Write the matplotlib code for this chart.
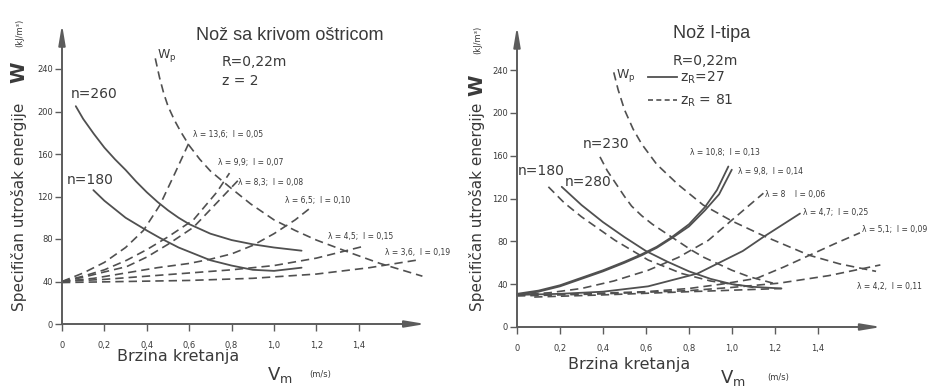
import matplotlib
matplotlib.use("Agg")
import matplotlib.pyplot as plt

plt.rcParams['font.family'] = ['DejaVu Sans']
plt.rcParams['mathtext.default'] = 'regular'

W_PX, H_PX = 939, 389
LINE = '#505050'
TEXT = '#3a3a3a'
AXIS = '#5c5c5c'
DASH = (0, (5, 3))

# ---------------- data: left panel (curved-edge knife) ----------------
x_ticks = [0, 0.2, 0.4, 0.6, 0.8, 1.0, 1.2, 1.4]
x_tick_labels = ['0', '0,2', '0,4', '0,6', '0,8', '1,0', '1,2', '1,4']
y_ticks = [0, 40, 80, 120, 160, 200, 240]
y_tick_labels = ['0', '40', '80', '120', '160', '200', '240']

L_n260_v = [0.065, 0.10, 0.15, 0.20, 0.25, 0.30, 0.35, 0.40, 0.45, 0.50, 0.55,
            0.60, 0.70, 0.80, 0.90, 1.00, 1.13]
L_n260_w = [205, 193, 179, 166, 155, 145, 134, 124, 115, 107, 100, 94, 85, 79, 75, 72, 69]
L_n180_v = [0.148, 0.20, 0.30, 0.40, 0.462, 0.55, 0.70, 0.80, 0.90, 1.00, 1.13]
L_n180_w = [126, 116, 100, 88, 81, 72, 60, 55, 51, 50, 53]
L_wp_v = [0.44, 0.46, 0.48, 0.50, 0.53, 0.56, 0.60, 0.65, 0.70, 0.79, 0.89, 1.00,
          1.10, 1.20, 1.36, 1.50, 1.60, 1.70]
L_wp_w = [250, 232, 217, 205, 192, 181, 168, 155, 144, 129, 113, 98, 88, 79, 67, 57, 51, 45]
L_l136_v = [0, 0.1, 0.2, 0.3, 0.384, 0.462, 0.533, 0.60]
L_l136_w = [40, 48, 58, 72, 88, 112, 142, 171]
L_l99_v = [0, 0.1, 0.2, 0.305, 0.4, 0.5, 0.62, 0.73, 0.79]
L_l99_w = [40, 45, 51, 60, 70, 82, 98, 124, 142]
L_l83_v = [0, 0.1, 0.2, 0.305, 0.4, 0.5, 0.62, 0.73, 0.83]
L_l83_w = [40, 44, 49, 54, 63, 75, 91, 114, 135]
L_l65_v = [0, 0.15, 0.3, 0.45, 0.6, 0.7, 0.8, 0.9, 1.0, 1.1, 1.17]
L_l65_w = [40, 43, 48, 53, 57, 61, 66, 74, 85, 98, 109]
L_l45_v = [0, 0.2, 0.4, 0.6, 0.8, 1.0, 1.2, 1.42]
L_l45_w = [40, 42, 45, 48, 51, 55, 62, 73]
L_l36_v = [0, 0.3, 0.6, 0.9, 1.2, 1.45, 1.67]
L_l36_w = [39, 40, 41, 43, 47, 53, 60]

L_labels = ['λ = 13,6;  l = 0,05', 'λ = 9,9;  l = 0,07', 'λ = 8,3;  l = 0,08',
            'λ = 6,5;  l = 0,10', 'λ = 4,5;  l = 0,15', 'λ = 3,6,  l = 0,19']

# ---------------- data: right panel (I-type knife) ----------------
R_wp_v = [0.45, 0.47, 0.50, 0.54, 0.58, 0.65, 0.75, 0.866, 1.00, 1.16, 1.36, 1.50, 1.67]
R_wp_w = [238, 222, 203, 185, 171, 152, 133, 114, 99, 84, 67, 59, 52]
R_n230_v = [0.386, 0.42, 0.46, 0.50, 0.533, 0.58, 0.63, 0.69, 0.75, 0.81, 0.87,
            0.93, 1.00, 1.08, 1.19]
R_n230_w = [159, 146, 134, 122, 113, 104, 96, 88, 80, 72, 65, 59.5, 53, 47, 41]
R_n180_v = [0.146, 0.22, 0.30, 0.456, 0.61, 0.766, 0.90, 1.00, 1.10]
R_n180_w = [131, 116, 103, 81, 62.6, 50, 43, 40, 37]
R_n280_v = [0.208, 0.30, 0.40, 0.50, 0.60, 0.70, 0.80, 0.90, 1.00, 1.10, 1.23]
R_n280_w = [131, 114, 98, 84, 71, 61, 52, 45, 40, 37.5, 36]
R_l108_v = [0, 0.1, 0.2, 0.3, 0.4, 0.5, 0.58, 0.65, 0.72, 0.8, 0.874, 0.93, 0.983]
R_l108_w = [31, 34, 39, 46, 53, 61, 68, 75, 84, 96, 112, 128, 150]
R_l98_v = [0, 0.1, 0.2, 0.3, 0.4, 0.5, 0.58, 0.65, 0.72, 0.8, 0.874, 0.94, 0.999]
R_l98_w = [30, 33, 38, 45, 52, 60, 67, 74, 83, 94, 109, 124, 147]
R_l8_v = [0, 0.15, 0.3, 0.45, 0.61, 0.75, 0.89, 1.0, 1.146]
R_l8_w = [30, 32, 36, 43, 53, 65, 81, 100, 125]
R_l47_v = [0, 0.2, 0.4, 0.61, 0.84, 0.93, 1.05, 1.145, 1.316]
R_l47_w = [30, 31, 33, 38, 50, 59, 71, 84, 106]
R_l51_v = [0, 0.3, 0.6, 0.8, 0.95, 1.115, 1.24, 1.36, 1.48, 1.595]
R_l51_w = [30, 31, 33, 36, 40, 45.5, 56, 67, 78, 88]
R_l42_v = [0, 0.4, 0.8, 1.0, 1.22, 1.45, 1.69]
R_l42_w = [29, 31, 34, 37, 41, 48, 58]
R_base_v = [0.08, 0.4, 0.8, 1.23]
R_base_w = [28, 30, 33, 36]

R_labels = ['λ = 10,8;  l = 0,13', 'λ = 9,8,  l = 0,14', 'λ = 8    l = 0,06',
            'λ = 4,7;  l = 0,25', 'λ = 5,1;  l = 0,09', 'λ = 4,2,  l = 0,11']

fig = plt.figure(figsize=(W_PX / 100, H_PX / 100), dpi=100)


def fx(px):
    return px / W_PX


def fy(py):
    return 1 - py / H_PX


def make_axes(x0_px, y0_px, px_per_v, px_per_w, vmax, wmax):
    w = vmax * px_per_v
    h = wmax * px_per_w
    ax = fig.add_axes([fx(x0_px), fy(y0_px), w / W_PX, h / H_PX])
    ax.set_xlim(0, vmax)
    ax.set_ylim(0, wmax)
    for s in ax.spines.values():
        s.set_visible(False)
    ax.set_xticks(x_ticks)
    ax.set_xticklabels(x_tick_labels)
    ax.set_yticks(y_ticks)
    ax.set_yticklabels(y_tick_labels)
    ax.tick_params(axis='both', direction='out', length=5, width=1.0,
                   color=AXIS, labelcolor=TEXT, labelsize=6)
    ax.tick_params(axis='x', pad=7)
    ax.tick_params(axis='y', pad=1.5)
    arrow = dict(arrowstyle='-|>,head_length=1.2,head_width=0.2',
                 color=AXIS, lw=1.4, shrinkA=0, shrinkB=0)
    ax.annotate('', xy=(vmax * 0.997, 0), xytext=(0, 0), arrowprops=arrow,
                annotation_clip=False)
    ax.annotate('', xy=(0, wmax * 0.997), xytext=(0, 0), arrowprops=arrow,
                annotation_clip=False)
    return ax


def solid(ax, v, w):
    ax.plot(v, w, color=LINE, lw=1.3, clip_on=False, solid_capstyle='round',
            solid_joinstyle='round')


def dashed(ax, v, w):
    ax.plot(v, w, color=LINE, lw=1.2, linestyle=DASH, clip_on=False)


# ---------------- left panel ----------------
axL = make_axes(62, 324, 212, 1.0625, 1.72, 283)
solid(axL, L_n260_v, L_n260_w)
solid(axL, L_n180_v, L_n180_w)
for v, w in [(L_wp_v, L_wp_w), (L_l136_v, L_l136_w), (L_l99_v, L_l99_w),
             (L_l83_v, L_l83_w), (L_l65_v, L_l65_w), (L_l45_v, L_l45_w),
             (L_l36_v, L_l36_w)]:
    dashed(axL, v, w)

# ---------------- right panel ----------------
axR = make_axes(517, 327, 215, 1.07, 1.70, 282)
solid(axR, R_n280_v, R_n280_w)
solid(axR, R_l108_v, R_l108_w)
solid(axR, R_l98_v, R_l98_w)
solid(axR, R_l47_v, R_l47_w)
for v, w in [(R_wp_v, R_wp_w), (R_n230_v, R_n230_w), (R_n180_v, R_n180_w),
             (R_l8_v, R_l8_w), (R_l51_v, R_l51_w), (R_l42_v, R_l42_w),
             (R_base_v, R_base_w)]:
    dashed(axR, v, w)


def t(px, py, s, size, ha='center', va='center', rot=0, **kw):
    fig.text(fx(px), fy(py), s, fontsize=size, ha=ha, va=va, rotation=rot,
             color=TEXT, **kw)


# titles and parameters
t(290, 35, 'Nož sa krivom oštricom', 13, family='Liberation Sans')
t(222, 62, 'R=0,22m', 10, ha='left')
t(222, 81, 'z = 2', 10, ha='left')
t(167, 56, '$W_p$', 9)
t(94, 94, 'n=260', 10)
t(90, 180, 'n=180', 10)

t(712, 33, 'Nož I-tipa', 13, family='Liberation Sans')
t(673, 61, 'R=0,22m', 10, ha='left')
t(626, 76, '$W_p$', 9)
t(680, 78, '$z_R$=27', 10, ha='left')
t(680, 101, '$z_R$ = 81', 10, ha='left')
t(606, 144, 'n=230', 10)
t(541, 171, 'n=180', 10)
t(588, 182, 'n=280', 10)

# legend line samples (z_R)
fig.add_artist(plt.Line2D([fx(648), fx(677)], [fy(77), fy(77)], color=LINE, lw=1.3))
fig.add_artist(plt.Line2D([fx(648), fx(677)], [fy(100), fy(100)], color=LINE,
                          lw=1.2, linestyle=(0, (3, 2))))

# lambda / l annotations
for (px, py), s in zip([(193, 135), (218, 163), (238, 183), (285, 200),
                        (328, 236), (385, 253)], L_labels):
    t(px, py, s, 5.5, ha='left')
for (px, py), s in zip([(690, 153), (738, 172), (765, 194), (803, 213),
                        (862, 230), (857, 287)], R_labels):
    t(px, py, s, 5.5, ha='left')

# axis titles
for x_lab, w_y, unit_y, bx, vx, mx, by, vb in [(19, 72, 33, 178, 280, 320, 356, 380),
                                              (477, 85, 40, 629, 733, 778, 364, 383)]:
    t(x_lab, 207, 'Specifičan utrošak energije', 11, rot=90)
    t(x_lab, w_y, 'W', 14, rot=90, fontweight='bold')
    t(x_lab + 1, unit_y, '(kJ/m³)', 6, rot=90)
    t(bx, by, 'Brzina kretanja', 11.5)
    t(vx, vb, '$V_m$', 13, va='baseline')
    t(mx, vb - 3, '(m/s)', 6, va='baseline')

fig.savefig('out.png', dpi=100, facecolor='white')
